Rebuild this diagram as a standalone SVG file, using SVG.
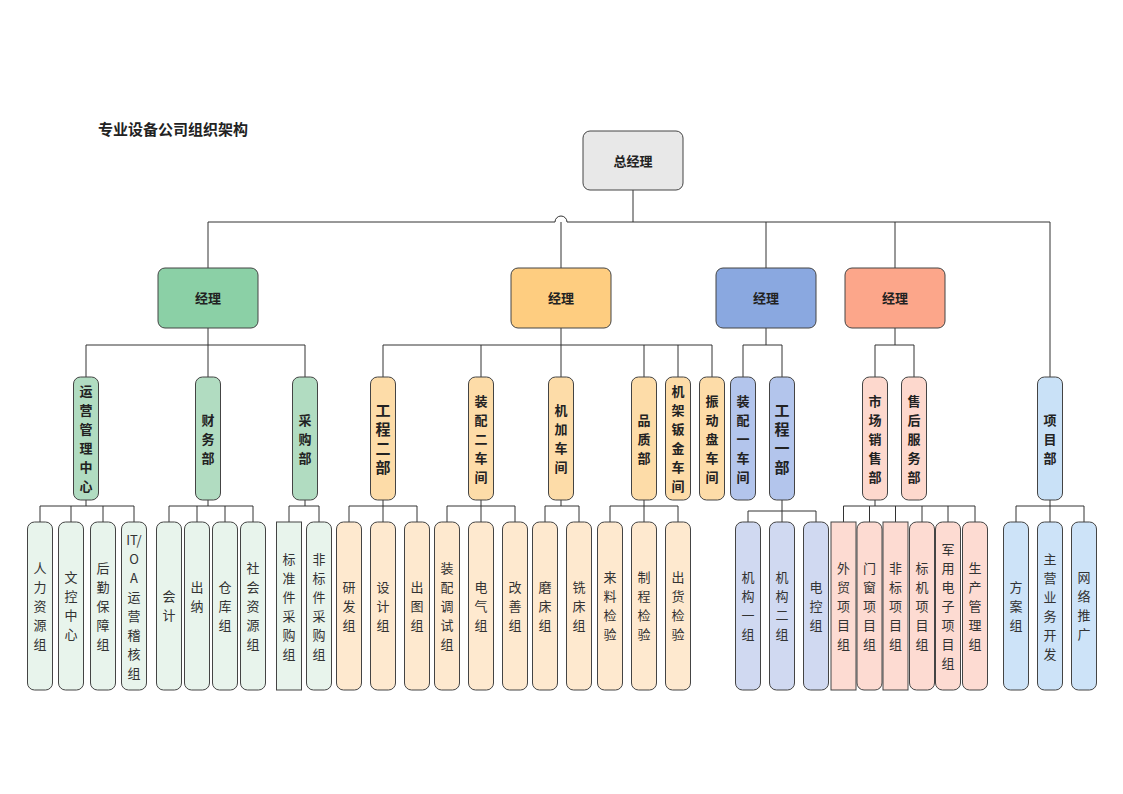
<svg xmlns="http://www.w3.org/2000/svg" width="1123" height="794" viewBox="0 0 1123 794">
<style>
text{font-family:"Noto Sans CJK SC","Liberation Sans",sans-serif;text-anchor:middle;fill:#222}
.n{stroke:#444;stroke-width:1}
.b{font-size:13px;font-weight:bold}
.l{font-size:13px;fill:#333}
.big{font-size:15px;font-weight:bold}
.c path{fill:none;stroke:#333;stroke-width:1}
.g1{fill:#8bd0a6}.o1{fill:#fecd80}.b1{fill:#8aa8e0}.s1{fill:#fca68a}
.g2{fill:#b1dcc1}.o2{fill:#fddca8}.b2{fill:#b3c5ec}.s2{fill:#fdd8cd}.p2{fill:#c9e1f7}
.g3{fill:#e8f4ec}.o3{fill:#fee9cf}.b3{fill:#d0d9f1}.s3{fill:#fddbd2}.p3{fill:#cde3f8}
</style>
<rect width="1123" height="794" fill="#fff"/>
<text x="173" y="135" style="font-size:15px;font-weight:bold">专业设备公司组织架构</text>
<g class="c">
<path d="M633 190V222M208 222H555A6 6 0 0 1 567 222H1050M208 222V268M561 222V268M766 222V268M895 222V268M1050 222V377"/>
<path d="M208 328V345M86 345H305M86 345V377M208 345V377M305 345V377"/>
<path d="M561 328V345M383 345H712M383 345V377M481 345V377M561 345V377M644 345V377M678 345V377M712 345V377"/>
<path d="M766 328V345M743 345H782M743 345V377M782 345V377"/>
<path d="M895 328V345M875 345H914M875 345V377M914 345V377"/>
<path d="M86 500V506M40 506H134M40 506V522M71 506V522M103 506V522M134 506V522"/>
<path d="M208 500V506M169 506H253M169 506V522M197 506V522M225 506V522M253 506V522"/>
<path d="M305 500V506M289 506H319M289 506V522M319 506V522"/>
<path d="M383 500V506M349 506H417M349 506V522M383 506V522M417 506V522"/>
<path d="M481 500V506M447 506H515M447 506V522M481 506V522M515 506V522"/>
<path d="M561 500V506M545 506H579M545 506V522M579 506V522"/>
<path d="M644 500V506M610 506H678M610 506V522M644 506V522M678 506V522"/>
<path d="M782 500V511M748 511H816M748 511V522M782 511V522M816 511V522"/>
<path d="M875 500V506M843.5 506H975M843.5 506V522M869.5 506V522M895.5 506V522M922 506V522M948 506V522M975 506V522"/>
<path d="M1050 500V506M1016 506H1084M1016 506V522M1050 506V522M1084 506V522"/>
</g>
<g id="ceo"><rect class="n" x="583" y="131" width="100" height="59" rx="7" fill="#e8e8e8"/><text class="b" x="633" y="166">总经理</text></g>
<g id="m1"><rect class="n g1" x="158" y="268" width="100" height="60" rx="7"/><text class="b" x="208" y="303">经理</text></g>
<g id="m2"><rect class="n o1" x="511" y="268" width="100" height="60" rx="7"/><text class="b" x="561" y="303">经理</text></g>
<g id="m3"><rect class="n b1" x="716" y="268" width="100" height="60" rx="7"/><text class="b" x="766" y="303">经理</text></g>
<g id="m4"><rect class="n s1" x="845" y="268" width="100" height="60" rx="7"/><text class="b" x="895" y="303">经理</text></g>

<g id="d1"><rect class="n g2" x="73.5" y="377" width="25" height="123" rx="7"/><text class="b" x="86" y="396"><tspan x="86">运</tspan><tspan x="86" dy="19">营</tspan><tspan x="86" dy="19">管</tspan><tspan x="86" dy="19">理</tspan><tspan x="86" dy="19">中</tspan><tspan x="86" dy="19">心</tspan></text></g>
<g id="d2"><rect class="n g2" x="195.5" y="377" width="25" height="123" rx="7"/><text class="b" x="208" y="425"><tspan x="208">财</tspan><tspan x="208" dy="19">务</tspan><tspan x="208" dy="19">部</tspan></text></g>
<g id="d3"><rect class="n g2" x="292.5" y="377" width="25" height="123" rx="7"/><text class="b" x="305" y="425"><tspan x="305">采</tspan><tspan x="305" dy="19">购</tspan><tspan x="305" dy="19">部</tspan></text></g>
<g id="d4"><rect class="n o2" x="370.5" y="377" width="25" height="123" rx="7"/><text class="big" x="383" y="416"><tspan x="383">工</tspan><tspan x="383" dy="19">程</tspan><tspan x="383" dy="19">二</tspan><tspan x="383" dy="19">部</tspan></text></g>
<g id="d5"><rect class="n o2" x="468.5" y="377" width="25" height="123" rx="7"/><text class="b" x="481" y="406"><tspan x="481">装</tspan><tspan x="481" dy="19">配</tspan><tspan x="481" dy="19">二</tspan><tspan x="481" dy="19">车</tspan><tspan x="481" dy="19">间</tspan></text></g>
<g id="d6"><rect class="n o2" x="548.5" y="377" width="25" height="123" rx="7"/><text class="b" x="561" y="415"><tspan x="561">机</tspan><tspan x="561" dy="19">加</tspan><tspan x="561" dy="19">车</tspan><tspan x="561" dy="19">间</tspan></text></g>
<g id="d7"><rect class="n o2" x="631.5" y="377" width="25" height="123" rx="7"/><text class="b" x="644" y="425"><tspan x="644">品</tspan><tspan x="644" dy="19">质</tspan><tspan x="644" dy="19">部</tspan></text></g>
<g id="d8"><rect class="n o2" x="665.5" y="377" width="25" height="123" rx="7"/><text class="b" x="678" y="396"><tspan x="678">机</tspan><tspan x="678" dy="19">架</tspan><tspan x="678" dy="19">钣</tspan><tspan x="678" dy="19">金</tspan><tspan x="678" dy="19">车</tspan><tspan x="678" dy="19">间</tspan></text></g>
<g id="d9"><rect class="n o2" x="699.5" y="377" width="25" height="123" rx="7"/><text class="b" x="712" y="406"><tspan x="712">振</tspan><tspan x="712" dy="19">动</tspan><tspan x="712" dy="19">盘</tspan><tspan x="712" dy="19">车</tspan><tspan x="712" dy="19">间</tspan></text></g>
<g id="d10"><rect class="n b2" x="730.5" y="377" width="25" height="123" rx="7"/><text class="b" x="743" y="406"><tspan x="743">装</tspan><tspan x="743" dy="19">配</tspan><tspan x="743" dy="19">一</tspan><tspan x="743" dy="19">车</tspan><tspan x="743" dy="19">间</tspan></text></g>
<g id="d11"><rect class="n b2" x="769.5" y="377" width="25" height="123" rx="7"/><text class="big" x="782" y="416"><tspan x="782">工</tspan><tspan x="782" dy="19">程</tspan><tspan x="782" dy="19">一</tspan><tspan x="782" dy="19">部</tspan></text></g>
<g id="d12"><rect class="n s2" x="862.5" y="377" width="25" height="123" rx="7"/><text class="b" x="875" y="406"><tspan x="875">市</tspan><tspan x="875" dy="19">场</tspan><tspan x="875" dy="19">销</tspan><tspan x="875" dy="19">售</tspan><tspan x="875" dy="19">部</tspan></text></g>
<g id="d13"><rect class="n s2" x="901.5" y="377" width="25" height="123" rx="7"/><text class="b" x="914" y="406"><tspan x="914">售</tspan><tspan x="914" dy="19">后</tspan><tspan x="914" dy="19">服</tspan><tspan x="914" dy="19">务</tspan><tspan x="914" dy="19">部</tspan></text></g>
<g id="d14"><rect class="n p2" x="1037.5" y="377" width="25" height="123" rx="7"/><text class="b" x="1050" y="425"><tspan x="1050">项</tspan><tspan x="1050" dy="19">目</tspan><tspan x="1050" dy="19">部</tspan></text></g>

<g id="e1"><rect class="n g3" x="27.5" y="522" width="25" height="168" rx="7"/><text class="l" x="40" y="573"><tspan x="40">人</tspan><tspan x="40" dy="19">力</tspan><tspan x="40" dy="19">资</tspan><tspan x="40" dy="19">源</tspan><tspan x="40" dy="19">组</tspan></text></g>
<g id="e2"><rect class="n g3" x="58.5" y="522" width="25" height="168" rx="7"/><text class="l" x="71" y="582"><tspan x="71">文</tspan><tspan x="71" dy="19">控</tspan><tspan x="71" dy="19">中</tspan><tspan x="71" dy="19">心</tspan></text></g>
<g id="e3"><rect class="n g3" x="90.5" y="522" width="25" height="168" rx="7"/><text class="l" x="103" y="573"><tspan x="103">后</tspan><tspan x="103" dy="19">勤</tspan><tspan x="103" dy="19">保</tspan><tspan x="103" dy="19">障</tspan><tspan x="103" dy="19">组</tspan></text></g>
<g id="e4"><rect class="n g3" x="121.5" y="522" width="25" height="168" rx="7"/><text class="l" x="134" y="545"><tspan x="134">IT/</tspan><tspan x="134" dy="19">O</tspan><tspan x="134" dy="19">A</tspan><tspan x="134" dy="19">运</tspan><tspan x="134" dy="19">营</tspan><tspan x="134" dy="19">稽</tspan><tspan x="134" dy="19">核</tspan><tspan x="134" dy="19">组</tspan></text></g>
<g id="e5"><rect class="n g3" x="156.5" y="522" width="25" height="168" rx="7"/><text class="l" x="169" y="601"><tspan x="169">会</tspan><tspan x="169" dy="19">计</tspan></text></g>
<g id="e6"><rect class="n g3" x="184.5" y="522" width="25" height="168" rx="7"/><text class="l" x="197" y="592"><tspan x="197">出</tspan><tspan x="197" dy="19">纳</tspan></text></g>
<g id="e7"><rect class="n g3" x="212.5" y="522" width="25" height="168" rx="7"/><text class="l" x="225" y="592"><tspan x="225">仓</tspan><tspan x="225" dy="19">库</tspan><tspan x="225" dy="19">组</tspan></text></g>
<g id="e8"><rect class="n g3" x="240.5" y="522" width="25" height="168" rx="7"/><text class="l" x="253" y="573"><tspan x="253">社</tspan><tspan x="253" dy="19">会</tspan><tspan x="253" dy="19">资</tspan><tspan x="253" dy="19">源</tspan><tspan x="253" dy="19">组</tspan></text></g>
<g id="e9"><rect class="n g3" x="276.5" y="522" width="25" height="168"/><text class="l" x="289" y="564"><tspan x="289">标</tspan><tspan x="289" dy="19">准</tspan><tspan x="289" dy="19">件</tspan><tspan x="289" dy="19">采</tspan><tspan x="289" dy="19">购</tspan><tspan x="289" dy="19">组</tspan></text></g>
<g id="e10"><rect class="n g3" x="306.5" y="522" width="25" height="168" rx="7"/><text class="l" x="319" y="564"><tspan x="319">非</tspan><tspan x="319" dy="19">标</tspan><tspan x="319" dy="19">件</tspan><tspan x="319" dy="19">采</tspan><tspan x="319" dy="19">购</tspan><tspan x="319" dy="19">组</tspan></text></g>
<g id="e11"><rect class="n o3" x="336.5" y="522" width="25" height="168" rx="7"/><text class="l" x="349" y="592"><tspan x="349">研</tspan><tspan x="349" dy="19">发</tspan><tspan x="349" dy="19">组</tspan></text></g>
<g id="e12"><rect class="n o3" x="370.5" y="522" width="25" height="168" rx="7"/><text class="l" x="383" y="592"><tspan x="383">设</tspan><tspan x="383" dy="19">计</tspan><tspan x="383" dy="19">组</tspan></text></g>
<g id="e13"><rect class="n o3" x="404.5" y="522" width="25" height="168" rx="7"/><text class="l" x="417" y="592"><tspan x="417">出</tspan><tspan x="417" dy="19">图</tspan><tspan x="417" dy="19">组</tspan></text></g>
<g id="e14"><rect class="n o3" x="434.5" y="522" width="25" height="168" rx="7"/><text class="l" x="447" y="573"><tspan x="447">装</tspan><tspan x="447" dy="19">配</tspan><tspan x="447" dy="19">调</tspan><tspan x="447" dy="19">试</tspan><tspan x="447" dy="19">组</tspan></text></g>
<g id="e15"><rect class="n o3" x="468.5" y="522" width="25" height="168" rx="7"/><text class="l" x="481" y="592"><tspan x="481">电</tspan><tspan x="481" dy="19">气</tspan><tspan x="481" dy="19">组</tspan></text></g>
<g id="e16"><rect class="n o3" x="502.5" y="522" width="25" height="168" rx="7"/><text class="l" x="515" y="592"><tspan x="515">改</tspan><tspan x="515" dy="19">善</tspan><tspan x="515" dy="19">组</tspan></text></g>
<g id="e17"><rect class="n o3" x="532.5" y="522" width="25" height="168" rx="7"/><text class="l" x="545" y="592"><tspan x="545">磨</tspan><tspan x="545" dy="19">床</tspan><tspan x="545" dy="19">组</tspan></text></g>
<g id="e18"><rect class="n o3" x="566.5" y="522" width="25" height="168" rx="7"/><text class="l" x="579" y="592"><tspan x="579">铣</tspan><tspan x="579" dy="19">床</tspan><tspan x="579" dy="19">组</tspan></text></g>
<g id="e19"><rect class="n o3" x="597.5" y="522" width="25" height="168" rx="7"/><text class="l" x="610" y="582"><tspan x="610">来</tspan><tspan x="610" dy="19">料</tspan><tspan x="610" dy="19">检</tspan><tspan x="610" dy="19">验</tspan></text></g>
<g id="e20"><rect class="n o3" x="631.5" y="522" width="25" height="168" rx="7"/><text class="l" x="644" y="582"><tspan x="644">制</tspan><tspan x="644" dy="19">程</tspan><tspan x="644" dy="19">检</tspan><tspan x="644" dy="19">验</tspan></text></g>
<g id="e21"><rect class="n o3" x="665.5" y="522" width="25" height="168" rx="7"/><text class="l" x="678" y="582"><tspan x="678">出</tspan><tspan x="678" dy="19">货</tspan><tspan x="678" dy="19">检</tspan><tspan x="678" dy="19">验</tspan></text></g>
<g id="e22"><rect class="n b3" x="735.5" y="522" width="25" height="168" rx="7"/><text class="l" x="748" y="582"><tspan x="748">机</tspan><tspan x="748" dy="19">构</tspan><tspan x="748" dy="19">一</tspan><tspan x="748" dy="19">组</tspan></text></g>
<g id="e23"><rect class="n b3" x="769.5" y="522" width="25" height="168" rx="7"/><text class="l" x="782" y="582"><tspan x="782">机</tspan><tspan x="782" dy="19">构</tspan><tspan x="782" dy="19">二</tspan><tspan x="782" dy="19">组</tspan></text></g>
<g id="e24"><rect class="n b3" x="803.5" y="522" width="25" height="168" rx="7"/><text class="l" x="816" y="592"><tspan x="816">电</tspan><tspan x="816" dy="19">控</tspan><tspan x="816" dy="19">组</tspan></text></g>
<g id="e25"><rect class="n s3" x="831" y="522" width="25" height="168"/><text class="l" x="843.5" y="573"><tspan x="843.5">外</tspan><tspan x="843.5" dy="19">贸</tspan><tspan x="843.5" dy="19">项</tspan><tspan x="843.5" dy="19">目</tspan><tspan x="843.5" dy="19">组</tspan></text></g>
<g id="e26"><rect class="n s3" x="857" y="522" width="25" height="168" rx="7"/><text class="l" x="869.5" y="573"><tspan x="869.5">门</tspan><tspan x="869.5" dy="19">窗</tspan><tspan x="869.5" dy="19">项</tspan><tspan x="869.5" dy="19">目</tspan><tspan x="869.5" dy="19">组</tspan></text></g>
<g id="e27"><rect class="n s3" x="883" y="522" width="25" height="168"/><text class="l" x="895.5" y="573"><tspan x="895.5">非</tspan><tspan x="895.5" dy="19">标</tspan><tspan x="895.5" dy="19">项</tspan><tspan x="895.5" dy="19">目</tspan><tspan x="895.5" dy="19">组</tspan></text></g>
<g id="e28"><rect class="n s3" x="909.5" y="522" width="25" height="168" rx="7"/><text class="l" x="922" y="573"><tspan x="922">标</tspan><tspan x="922" dy="19">机</tspan><tspan x="922" dy="19">项</tspan><tspan x="922" dy="19">目</tspan><tspan x="922" dy="19">组</tspan></text></g>
<g id="e29"><rect class="n s3" x="935.5" y="522" width="25" height="168" rx="7"/><text class="l" x="948" y="554"><tspan x="948">军</tspan><tspan x="948" dy="19">用</tspan><tspan x="948" dy="19">电</tspan><tspan x="948" dy="19">子</tspan><tspan x="948" dy="19">项</tspan><tspan x="948" dy="19">目</tspan><tspan x="948" dy="19">组</tspan></text></g>
<g id="e30"><rect class="n s3" x="962.5" y="522" width="25" height="168" rx="7"/><text class="l" x="975" y="573"><tspan x="975">生</tspan><tspan x="975" dy="19">产</tspan><tspan x="975" dy="19">管</tspan><tspan x="975" dy="19">理</tspan><tspan x="975" dy="19">组</tspan></text></g>
<g id="e31"><rect class="n p3" x="1003.5" y="522" width="25" height="168" rx="7"/><text class="l" x="1016" y="592"><tspan x="1016">方</tspan><tspan x="1016" dy="19">案</tspan><tspan x="1016" dy="19">组</tspan></text></g>
<g id="e32"><rect class="n p3" x="1037.5" y="522" width="25" height="168" rx="7"/><text class="l" x="1050" y="564"><tspan x="1050">主</tspan><tspan x="1050" dy="19">营</tspan><tspan x="1050" dy="19">业</tspan><tspan x="1050" dy="19">务</tspan><tspan x="1050" dy="19">开</tspan><tspan x="1050" dy="19">发</tspan></text></g>
<g id="e33"><rect class="n p3" x="1071.5" y="522" width="25" height="168" rx="7"/><text class="l" x="1084" y="582"><tspan x="1084">网</tspan><tspan x="1084" dy="19">络</tspan><tspan x="1084" dy="19">推</tspan><tspan x="1084" dy="19">广</tspan></text></g>
</svg>
